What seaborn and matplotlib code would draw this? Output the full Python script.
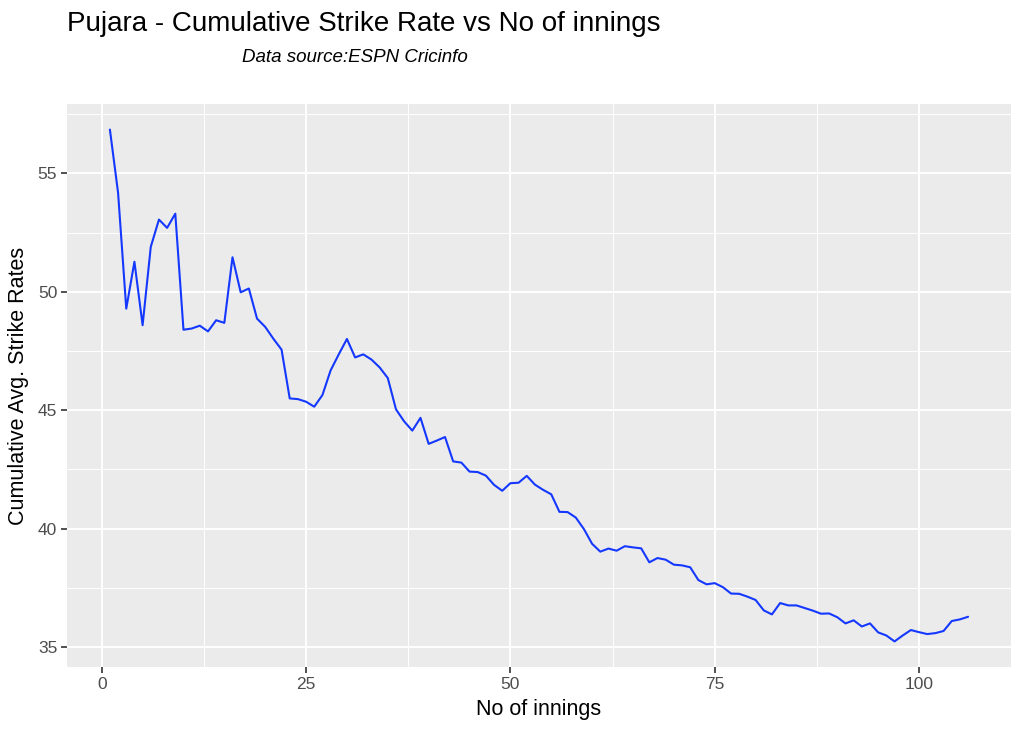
import numpy as np
import pandas as pd
import seaborn as sns
import matplotlib.pyplot as plt
from matplotlib.ticker import MultipleLocator

# cumulative average strike rate per innings
innings = list(range(1, 107))
strike_rate = [
  56.85, 54.18, 49.29, 51.27, 48.59, 51.90, 53.05, 52.70, 53.30, 48.40,
  48.45, 48.57, 48.33, 48.80, 48.69, 51.46, 49.98, 50.14, 48.87, 48.52,
  48.02, 47.56, 45.50, 45.47, 45.36, 45.15, 45.64, 46.68, 47.36, 48.01,
  47.23, 47.36, 47.14, 46.81, 46.36, 45.04, 44.53, 44.14, 44.68, 43.58,
  43.72, 43.87, 42.84, 42.79, 42.41, 42.39, 42.24, 41.85, 41.60, 41.92,
  41.94, 42.23, 41.86, 41.64, 41.45, 40.71, 40.70, 40.47, 39.98, 39.36,
  39.03, 39.16, 39.07, 39.26, 39.21, 39.17, 38.58, 38.76, 38.69, 38.48,
  38.45, 38.37, 37.83, 37.65, 37.70, 37.53, 37.26, 37.25, 37.13, 36.99,
  36.55, 36.38, 36.86, 36.76, 36.76, 36.65, 36.54, 36.41, 36.42, 36.26,
  36.00, 36.13, 35.87, 36.00, 35.62, 35.49, 35.24, 35.49, 35.72, 35.63,
  35.55, 35.59, 35.68, 36.10, 36.17, 36.28,
]
x_ticks = [0, 25, 50, 75, 100]
y_ticks = [35, 40, 45, 50, 55]

df = pd.DataFrame({"innings": innings, "sr": strike_rate})

sns.set_style("darkgrid", {"axes.facecolor": "#EBEBEB", "grid.color": "white"})
plt.rcParams["font.family"] = ["Liberation Sans", "DejaVu Sans"]

fig = plt.figure(figsize=(10.23, 7.31), dpi=100)
ax = fig.add_axes([67 / 1023, 1 - 667 / 731, (1011 - 67) / 1023, (667 - 104) / 731])

sns.lineplot(data=df, x="innings", y="sr", color="#1438FF", linewidth=1.5, ax=ax)

# ggplot style 5% expansion
xr = max(innings) - min(innings)
yr = max(strike_rate) - min(strike_rate)
ax.set_xlim(min(innings) - 0.05 * xr, max(innings) + 0.05 * xr)
ax.set_ylim(min(strike_rate) - 0.05 * yr, max(strike_rate) + 0.05 * yr)

ax.set_xticks(x_ticks)
ax.set_yticks(y_ticks)
ax.xaxis.set_minor_locator(MultipleLocator(12.5))
ax.yaxis.set_minor_locator(MultipleLocator(2.5))
ax.grid(which="major", color="white", linewidth=1.4)
ax.grid(which="minor", color="white", linewidth=0.7)
ax.set_axisbelow(True)
for s in ax.spines.values():
  s.set_visible(False)
ax.tick_params(which="major", length=4, width=1.2, color="#333333",
               labelsize=12.5, labelcolor="#4D4D4D", pad=3,
               bottom=True, left=True)
ax.tick_params(which="minor", length=0)

ax.set_xlabel("No of innings", fontsize=15.5, color="black", labelpad=5)
ax.set_ylabel("Cumulative Avg. Strike Rates", fontsize=15.5, color="black", labelpad=6)

fig.text(67 / 1023, 1 - 24 / 731, "Pujara - Cumulative Strike Rate vs No of innings",
         fontsize=20, color="black", ha="left", va="center")
fig.text(242 / 1023, 1 - 58 / 731, "Data source:ESPN Cricinfo",
         fontsize=13.5, style="italic", color="black", ha="left", va="center")

fig.savefig("out.png", dpi=100)
